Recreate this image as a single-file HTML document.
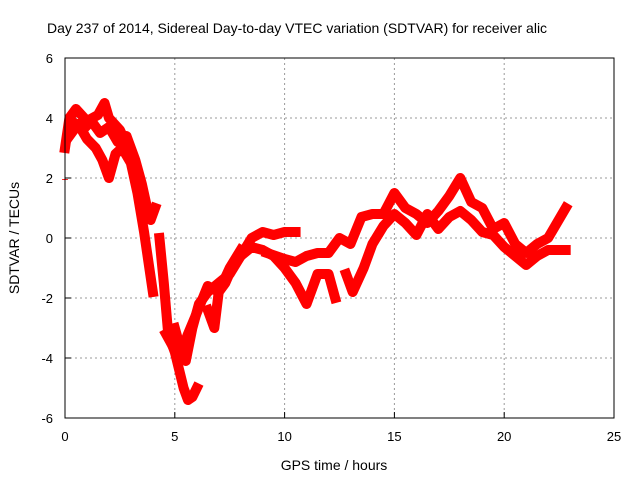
<!DOCTYPE html>
<html><head><meta charset="utf-8"><style>
body{margin:0;background:#fff;}
svg{display:block;font-family:"Liberation Sans",sans-serif;}
</style></head><body>
<svg id="chart" width="640" height="480">
<text x="47" y="33" font-size="14">Day 237 of 2014, Sidereal Day-to-day VTEC variation (SDTVAR) for receiver alic</text>
<g id="grid"></g><g id="ticks"></g><g id="series"></g>
<rect x="65" y="58" width="549" height="360" fill="none" stroke="#000" stroke-width="1"/>
<text x="334" y="470" font-size="14" text-anchor="middle">GPS time / hours</text>
<text transform="translate(19,238) rotate(-90)" font-size="14" text-anchor="middle">SDTVAR / TECUs</text>
</svg>
<script>
const xTicks=[0,5,10,15,20,25];
const yTicks=[-6,-4,-2,0,2,4,6];
const s1x=[0,0.2,0.5,1,1.5,1.8,2,2.5,3,3.3,3.6,3.9,4.1];
const s1y=[3.0,4.0,4.3,3.9,4.1,4.5,4.0,3.6,2.8,2.0,1.2,0.6,1.0];
const s2x=[0.2,0.6,1,1.4,1.7,2,2.3,2.6,3,3.3,3.6,3.8,4.0];
const s2y=[3.4,3.8,3.3,3.0,2.6,2.0,2.8,3.0,2.5,1.5,0.2,-0.8,-1.8];
const s8x=[0.3,0.8,1.2,1.6,2.0,2.4,2.8,3.2,3.5,3.8];
const s8y=[3.9,3.6,3.9,3.5,3.7,3.2,3.4,2.6,1.8,0.8];
const s3x=[4.3,4.5,4.7,5,5.2,5.4,5.6,5.8,6.0];
const s3y=[0.0,-1.5,-3.2,-3.8,-4.4,-5.0,-5.4,-5.3,-5.0];
const s4x=[4.6,4.9,5.2,5.5,5.8,6.1,6.5,7,7.5,8,8.5,9,9.5,10,10.5];
const s4y=[-3.2,-3.6,-4.0,-4.1,-3.0,-2.2,-1.8,-1.5,-1.2,-0.6,0.0,0.2,0.1,0.2,0.2];
const s9x=[5.0,5.3,5.6,6.0,6.5,7.0,7.5,8.0];
const s9y=[-3.0,-3.8,-3.2,-2.5,-1.6,-1.8,-1.0,-0.4];
const s5x=[6.5,6.8,7,7.3,7.6,8,8.5,9,9.5,10,10.5,11,11.5,12,12.3];
const s5y=[-2.4,-3.0,-1.8,-1.5,-1.0,-0.6,-0.3,-0.4,-0.6,-1.0,-1.5,-2.2,-1.2,-1.2,-2.0];
const s6x=[9.2,10,10.5,11,11.5,12,12.5,13,13.5,14,14.5,15,15.5,16,16.5,17,17.5,18,18.5,19,19.5,20,20.5,21,21.5,22,22.8];
const s6y=[-0.5,-0.7,-0.8,-0.6,-0.5,-0.5,0.0,-0.2,0.7,0.8,0.8,1.5,1.0,0.8,0.5,0.9,1.4,2.0,1.2,1.0,0.3,0.5,-0.2,-0.5,-0.2,0.0,1.0];
const s7x=[12.8,13.1,13.6,14,14.5,15,15.5,16,16.5,17,17.5,18,18.5,19,19.5,20,20.5,21,21.5,22,22.8];
const s7y=[-1.2,-1.8,-1.0,-0.2,0.4,0.8,0.5,0.1,0.8,0.3,0.7,0.9,0.6,0.2,0.1,-0.3,-0.6,-0.9,-0.6,-0.4,-0.4];
const allX=[s1x,s2x,s8x,s3x,s4x,s9x,s5x,s6x,s7x], allY=[s1y,s2y,s8y,s3y,s4y,s9y,s5y,s6y,s7y];
const X=v=>65+v*549/25, Y=v=>238-v*30;
const NS='http://www.w3.org/2000/svg';
const grid=document.getElementById('grid'),ticks=document.getElementById('ticks'),ser=document.getElementById('series');
function mk(tag,at,parent){const e=document.createElementNS(NS,tag);for(const k in at)e.setAttribute(k,at[k]);parent.appendChild(e);return e;}
xTicks.forEach(t=>{
 if(t>0&&t<25){const g=mk('line',{x1:X(t),x2:X(t),y1:58,y2:418,stroke:'#999','stroke-dasharray':'2,3'},grid);
 
 }
 const tk=mk('line',{x1:X(t),x2:X(t),y1:418,y2:412,stroke:'#000'},ticks);
 
 
 const l=mk('text',{x:X(t),y:441,'font-size':13,'text-anchor':'middle'},ticks);l.textContent=t;
 
 
});
yTicks.forEach(t=>{
 if(t>-6&&t<6){const g=mk('line',{x1:65,x2:614,y1:Y(t),y2:Y(t),stroke:'#999','stroke-dasharray':'2,3'},grid);
 
 }
 const tk=mk('line',{x1:65,x2:71,y1:Y(t),y2:Y(t),stroke:'#000'},ticks);
 
 
 const l=mk('text',{x:53,y:Y(t)+5,'font-size':13,'text-anchor':'end'},ticks);l.textContent=t;
 
 
});
allX.forEach((xs,i)=>{
 const pts=xs.map((x,j)=>X(x)+','+Y(allY[i][j])).join(' ');
 const p=mk('polyline',{points:pts,fill:'none',stroke:'#f00','stroke-width':10,'stroke-linejoin':'round','stroke-linecap':'square'},ser);
 
 
});
const d=mk('text',{x:X(0),y:Y(1.95)+4,'font-size':12,fill:'#f00','text-anchor':'middle'},ser);d.textContent='+';


</script>
</body></html>
